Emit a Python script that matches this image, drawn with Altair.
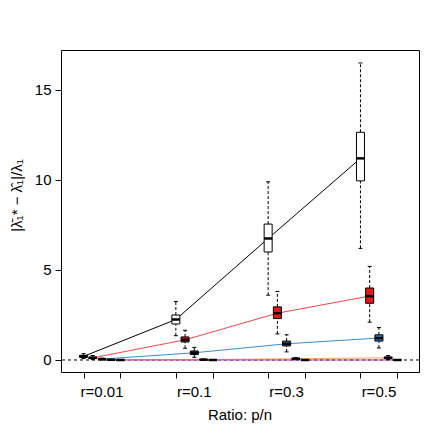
import altair as alt
import pandas as pd

ratios = ["r=0.01", "r=0.1", "r=0.3", "r=0.5"]
series = ["s1", "s2", "s3", "s4", "s5"]
offsets = [-0.2, -0.1, 0.0, 0.1, 0.2]
box_fill = ["#FFFFFF", "#E31A1C", "#2B7BBA", "#E08A3C", "#B03AB0"]
line_col = ["#000000", "#F0474A", "#3C8DC8", "#F4A460", "#CC33CC"]

# per series: lower whisker, Q1, median, Q3, upper whisker (for r = 0.01, 0.1, 0.3, 0.5)
s1_lo = [0.08, 1.35, 3.6, 6.2]
s1_q1 = [0.15, 2.0, 6.0, 9.95]
s1_md = [0.2, 2.25, 6.75, 11.2]
s1_q3 = [0.26, 2.5, 7.55, 12.65]
s1_hi = [0.35, 3.25, 9.9, 16.5]

s2_lo = [0.02, 0.65, 1.45, 2.1]
s2_q1 = [0.08, 1.0, 2.3, 3.15]
s2_md = [0.12, 1.12, 2.6, 3.55]
s2_q3 = [0.16, 1.28, 2.95, 4.0]
s2_hi = [0.25, 1.65, 3.8, 5.2]

s3_lo = [0.0, 0.15, 0.45, 0.67]
s3_q1 = [0.03, 0.3, 0.78, 1.05]
s3_md = [0.05, 0.4, 0.9, 1.22]
s3_q3 = [0.07, 0.5, 1.05, 1.4]
s3_hi = [0.1, 0.7, 1.4, 1.8]

s4_lo = [0.0, 0.0, 0.02, 0.02]
s4_q1 = [0.01, 0.01, 0.05, 0.08]
s4_md = [0.015, 0.02, 0.07, 0.12]
s4_q3 = [0.02, 0.03, 0.09, 0.16]
s4_hi = [0.03, 0.05, 0.14, 0.25]

s5_lo = [-0.01, -0.01, -0.01, -0.01]
s5_q1 = [-0.005, -0.005, -0.005, -0.005]
s5_md = [0.0, 0.0, 0.0, 0.0]
s5_q3 = [0.005, 0.005, 0.005, 0.005]
s5_hi = [0.01, 0.01, 0.01, 0.01]

stats = [
    (s1_lo, s1_q1, s1_md, s1_q3, s1_hi),
    (s2_lo, s2_q1, s2_md, s2_q3, s2_hi),
    (s3_lo, s3_q1, s3_md, s3_q3, s3_hi),
    (s4_lo, s4_q1, s4_md, s4_q3, s4_hi),
    (s5_lo, s5_q1, s5_md, s5_q3, s5_hi),
]

rows = []
for si, name in enumerate(series):
    lo, q1, md, q3, hi = stats[si]
    for gi in range(len(ratios)):
        rows.append({
            "series": name, "order": gi, "x": gi + 1 + offsets[si],
            "lo": lo[gi], "q1": q1[gi], "med": md[gi], "q3": q3[gi], "hi": hi[gi],
            "fill": box_fill[si], "line": line_col[si],
        })
df = pd.DataFrame(rows)

tick_pos = [g + 1 + d for g in range(4) for d in (-0.2, 0.2)]
lab_df = pd.DataFrame({"x": [1, 2, 3, 4], "label": ratios})

FONT = "Liberation Sans"
FS = 15

xs = alt.Scale(domain=[0.61, 4.38], nice=False, zero=False)
ys = alt.Scale(domain=[-0.667, 17.22], nice=False, zero=False)

X = alt.X("x:Q", scale=xs,
          axis=alt.Axis(values=tick_pos, labels=False, tickSize=6, domain=False,
                        grid=False, title=None, tickColor="black"))
Y_AX = alt.Axis(values=[0, 5, 10, 15], tickSize=6, domain=False, grid=False,
                labelFont=FONT, labelFontSize=FS, labelPadding=4, labelColor="black",
                tickColor="black",
                title="|λ̄₁* − λ̂₁|/λ₁", titleFont=FONT, titleFontSize=FS,
                titleFontWeight="normal", titlePadding=10, titleColor="black", titleY=145)

base = alt.Chart(df)

zero = alt.Chart(pd.DataFrame({"z": [0]})).mark_rule(
    color="black", strokeDash=[3, 3], strokeWidth=1
).encode(y=alt.Y("z:Q", scale=ys, axis=Y_AX))

lines = base.mark_line(strokeWidth=1).encode(
    x=X, y=alt.Y("med:Q", scale=ys), detail="series:N",
    color=alt.Color("line:N", scale=None), order="order:Q")

wlo = base.mark_rule(strokeDash=[3, 2], color="black").encode(
    x=X, y=alt.Y("lo:Q", scale=ys), y2="q1:Q")
whi = base.mark_rule(strokeDash=[3, 2], color="black").encode(
    x=X, y=alt.Y("q3:Q", scale=ys), y2="hi:Q")
caplo = base.mark_tick(orient="horizontal", size=4, thickness=1, color="black", opacity=1).encode(
    x=X, y=alt.Y("lo:Q", scale=ys))
caphi = base.mark_tick(orient="horizontal", size=4, thickness=1, color="black", opacity=1).encode(
    x=X, y=alt.Y("hi:Q", scale=ys))
boxes = base.mark_bar(size=8, stroke="black", strokeWidth=1, opacity=1).encode(
    x=X, y=alt.Y("q1:Q", scale=ys), y2="q3:Q",
    fill=alt.Fill("fill:N", scale=None))
meds = base.mark_tick(orient="horizontal", size=8, thickness=2.5, color="black", opacity=1).encode(
    x=X, y=alt.Y("med:Q", scale=ys))

xlabels = alt.Chart(lab_df).mark_text(font=FONT, fontSize=FS, baseline="middle", color="black").encode(
    x=alt.X("x:Q", scale=xs), y=alt.value(342), text="label:N")
xtitle = alt.Chart(pd.DataFrame({"t": ["Ratio: p/n"]})).mark_text(
    font=FONT, fontSize=FS, baseline="middle", color="black").encode(
    x=alt.value(179), y=alt.value(365), text="t:N")

chart = alt.layer(zero, lines, wlo, whi, caplo, caphi, boxes, meds, xlabels, xtitle).properties(
    width=358, height=322,
    padding={"left": 1, "top": 42, "right": 5, "bottom": 5},
).configure(
    font=FONT, background="white",
    view=alt.ViewConfig(stroke="black", strokeWidth=1),
)

chart.save("out.html", embed_options={"renderer": "svg", "actions": False})
